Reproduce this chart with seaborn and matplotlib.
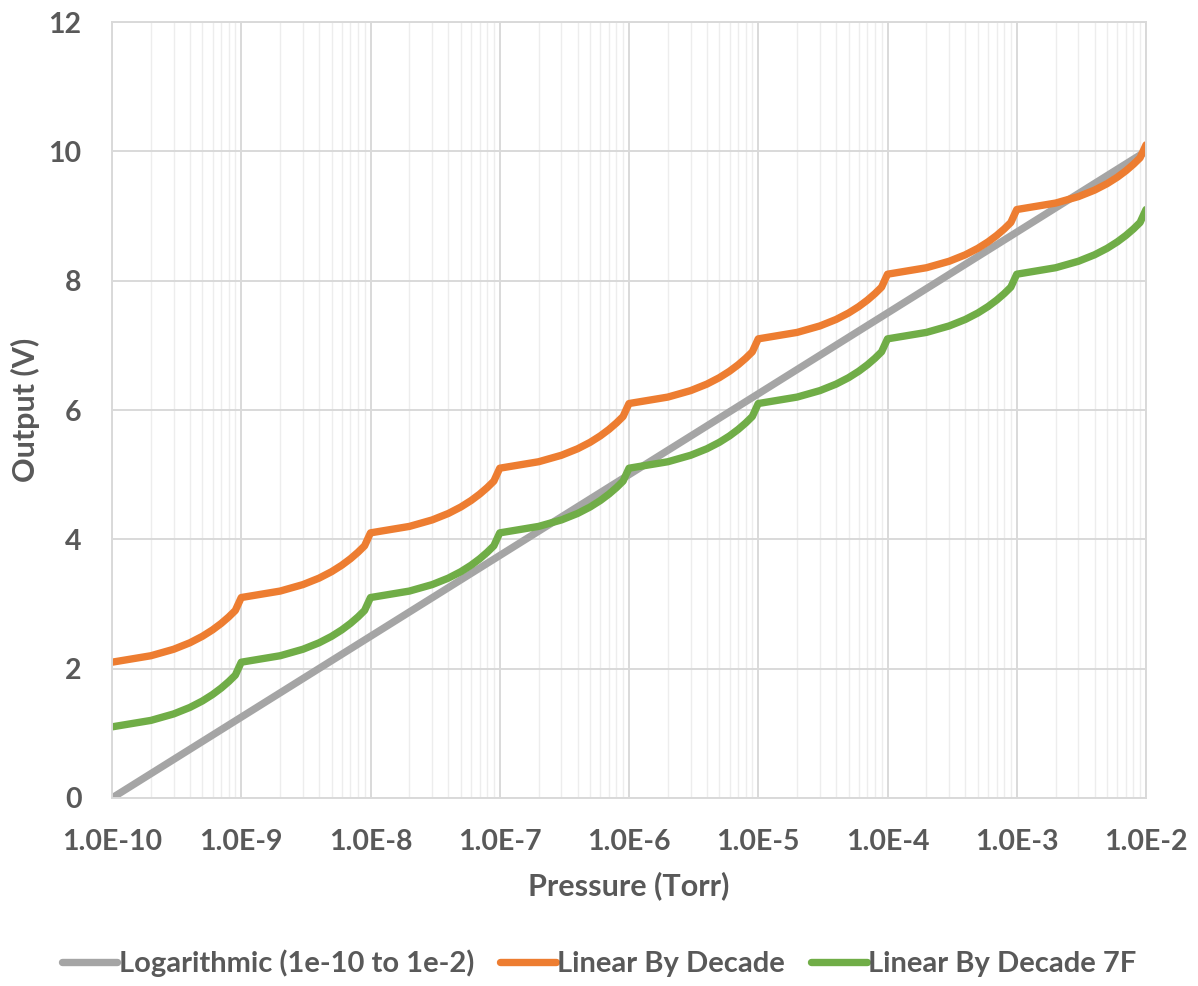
import numpy as np
import pandas as pd
import seaborn as sns
import matplotlib.pyplot as plt
from matplotlib.ticker import FixedLocator, LogLocator, FuncFormatter, MultipleLocator

# Pressure grid: mantissa 1..9 in each decade from 1e-10 up to 1e-3, then 1e-2
mantissas = [1, 2, 3, 4, 5, 6, 7, 8, 9]
decades = [-10, -9, -8, -7, -6, -5, -4, -3]
pressure = [m * 10.0 ** d for d in decades for m in mantissas] + [1e-2]

# Logarithmic output, read at each decade (straight line on the log axis)
log_pressure = [1e-10, 1e-9, 1e-8, 1e-7, 1e-6, 1e-5, 1e-4, 1e-3, 1e-2]
log_output = [0.0, 1.25, 2.5, 3.75, 5.0, 6.25, 7.5, 8.75, 10.0]

# Linear By Decade
linear_output = [
    2.1, 2.2, 2.3, 2.4, 2.5, 2.6, 2.7, 2.8, 2.9,
    3.1, 3.2, 3.3, 3.4, 3.5, 3.6, 3.7, 3.8, 3.9,
    4.1, 4.2, 4.3, 4.4, 4.5, 4.6, 4.7, 4.8, 4.9,
    5.1, 5.2, 5.3, 5.4, 5.5, 5.6, 5.7, 5.8, 5.9,
    6.1, 6.2, 6.3, 6.4, 6.5, 6.6, 6.7, 6.8, 6.9,
    7.1, 7.2, 7.3, 7.4, 7.5, 7.6, 7.7, 7.8, 7.9,
    8.1, 8.2, 8.3, 8.4, 8.5, 8.6, 8.7, 8.8, 8.9,
    9.1, 9.2, 9.3, 9.4, 9.5, 9.6, 9.7, 9.8, 9.9,
    10.1,
]

# Linear By Decade 7F
linear7f_output = [
    1.1, 1.2, 1.3, 1.4, 1.5, 1.6, 1.7, 1.8, 1.9,
    2.1, 2.2, 2.3, 2.4, 2.5, 2.6, 2.7, 2.8, 2.9,
    3.1, 3.2, 3.3, 3.4, 3.5, 3.6, 3.7, 3.8, 3.9,
    4.1, 4.2, 4.3, 4.4, 4.5, 4.6, 4.7, 4.8, 4.9,
    5.1, 5.2, 5.3, 5.4, 5.5, 5.6, 5.7, 5.8, 5.9,
    6.1, 6.2, 6.3, 6.4, 6.5, 6.6, 6.7, 6.8, 6.9,
    7.1, 7.2, 7.3, 7.4, 7.5, 7.6, 7.7, 7.8, 7.9,
    8.1, 8.2, 8.3, 8.4, 8.5, 8.6, 8.7, 8.8, 8.9,
    9.1,
]

series_names = ["Logarithmic (1e-10 to 1e-2)", "Linear By Decade", "Linear By Decade 7F"]
colors = ["#A5A5A5", "#ED7D31", "#70AD47"]

df = pd.concat([
    pd.DataFrame({"Pressure": log_pressure, "Output": log_output, "Series": series_names[0]}),
    pd.DataFrame({"Pressure": pressure, "Output": linear_output, "Series": series_names[1]}),
    pd.DataFrame({"Pressure": pressure, "Output": linear7f_output, "Series": series_names[2]}),
])

sns.set_style("white")
plt.rcParams['font.family'] = ['Lato', 'DejaVu Sans']
plt.rcParams['font.weight'] = 'bold'
text_col = "#595959"
lw = 5.3

fig = plt.figure(figsize=(11.98, 9.86), dpi=100)
ax = fig.add_axes([112 / 1198, 1 - 798 / 986, 1034 / 1198, 776 / 986])

sns.lineplot(data=df, x="Pressure", y="Output", hue="Series", hue_order=series_names,
             palette=colors, estimator=None, sort=False, linewidth=lw, ax=ax, legend=False)

ax.set_xscale("log")
ax.set_xlim(1e-10, 1e-2)
ax.set_ylim(0, 12)
ax.yaxis.set_major_locator(MultipleLocator(2))
ax.xaxis.set_major_locator(FixedLocator(log_pressure))
ax.xaxis.set_minor_locator(LogLocator(base=10, subs=range(2, 10), numticks=100))
ax.xaxis.set_major_formatter(FuncFormatter(lambda x, p: f"1.0E{int(round(np.log10(x)))}"))
ax.xaxis.set_minor_formatter(FuncFormatter(lambda x, p: ""))

ax.grid(which="major", color="#D9D9D9", linewidth=1.4)
ax.grid(which="minor", axis="x", color="#EDEDED", linewidth=1.0)
ax.set_axisbelow(True)
for s in ax.spines.values():
    s.set_color("#D9D9D9")
    s.set_linewidth(1.4)

ax.tick_params(which="both", length=0)
ax.tick_params(axis="x", pad=22, labelsize=20.5, labelcolor=text_col)
ax.tick_params(axis="y", pad=22, labelsize=20.5, labelcolor=text_col)

ax.set_xlabel("Pressure (Torr)", fontsize=22, fontweight="bold", color=text_col, va="center")
ax.set_ylabel("Output (V)", fontsize=22, fontweight="bold", color=text_col, va="center")
ax.xaxis.set_label_coords(0.5, -88 / 776)
ax.yaxis.set_label_coords(-87 / 1034, 0.5)

handles = [plt.Line2D([], [], color=c, linewidth=lw) for c in colors]
fig.legend(handles, series_names, loc="center", bbox_to_anchor=(0.5, 1 - 963 / 986),
           ncol=3, frameon=False, fontsize=21, handlelength=1.9, handletextpad=0.05,
           columnspacing=0.9, labelcolor=text_col)

fig.savefig("out.png", dpi=100)
